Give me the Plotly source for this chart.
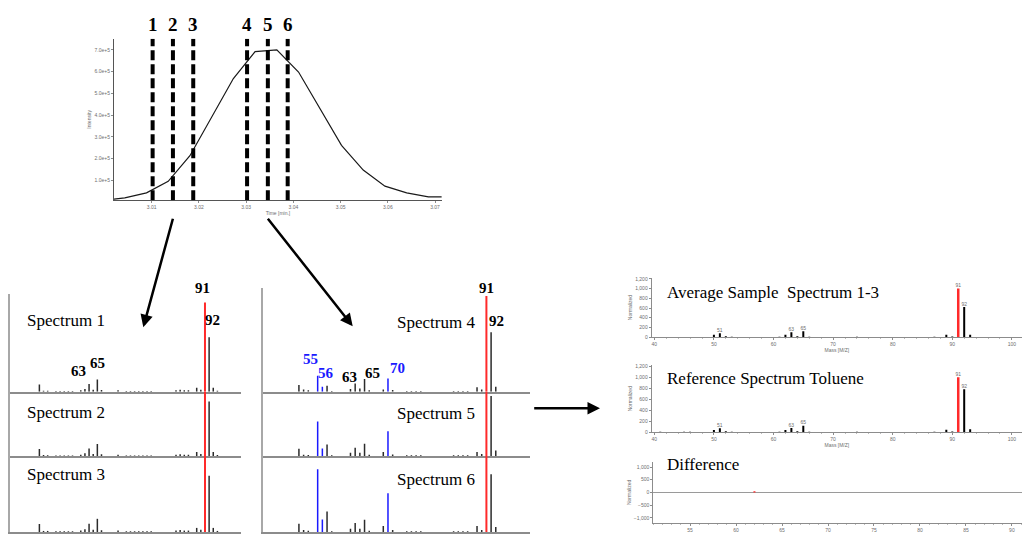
import plotly.graph_objects as go

W, H = 1025, 536

# ---- total ion chromatogram of the toluene peak ----
chrom_time = [3.0020, 3.0043, 3.0089, 3.0135, 3.0181, 3.0227, 3.0273, 3.0319,
              3.0365, 3.0411, 3.0456, 3.0502, 3.0548, 3.0594, 3.0640, 3.0686, 3.0714]
chrom_intensity = [13000, 19000, 42000, 95000, 213000, 389000, 568000, 692000,
                   700000, 598000, 434000, 261000, 147000, 73000, 42000, 24000, 24000]
scan_times = [3.0102, 3.0145, 3.0188, 3.0302, 3.0346, 3.0388]
scan_labels = ["1", "2", "3", "4", "5", "6"]

# ---- scans 1-3 (leading edge), base peak m/z 91 = 1000 ----
early_mz = [51, 52, 53, 55, 56, 57, 58, 59, 61, 62, 63, 64, 65, 66, 70, 72, 73, 74,
            75, 76, 77, 78, 84, 85, 86, 87, 89, 90, 91, 92, 93, 94]
spec1 = [81, 11, 11, 7, 7, 7, 7, 7, 15, 30, 85, 22, 137, 19, 15, 7, 7, 7,
         7, 7, 7, 7, 15, 20, 15, 15, 44, 22, 1000, 610, 44, 11]
spec2 = [80, 11, 10, 7, 7, 7, 7, 7, 15, 30, 84, 22, 135, 19, 15, 7, 7, 7,
         7, 7, 7, 7, 15, 20, 15, 15, 44, 22, 1000, 611, 44, 11]
spec3 = [90, 12, 12, 8, 8, 8, 8, 8, 16, 32, 92, 24, 148, 20, 16, 8, 8, 8,
         8, 8, 8, 8, 16, 22, 16, 16, 46, 24, 1000, 630, 46, 12]

# ---- scans 4-6 (apex / tailing edge) with co-eluting ions ----
late_mz = [51, 52, 53, 55, 56, 57, 58, 62, 63, 64, 65, 66, 69, 70, 71, 74, 75, 76,
           77, 84, 85, 86, 87, 89, 90, 91, 92, 93]
spec4 = [69, 21, 14, 166, 52, 62, 7, 28, 86, 34, 131, 14, 21, 138, 17, 7, 7, 7,
         7, 7, 7, 7, 7, 45, 21, 1000, 621, 52]
spec5 = [76, 14, 10, 362, 79, 121, 7, 34, 86, 34, 128, 14, 41, 259, 17, 7, 7, 7,
         7, 7, 7, 7, 7, 41, 21, 1000, 628, 59]
spec6 = [86, 21, 14, 655, 131, 214, 7, 34, 93, 34, 128, 14, 62, 404, 21, 7, 7, 7,
         7, 7, 7, 7, 7, 62, 21, 1000, 604, 52]
coeluting_mz = [55, 56, 70]
base_mz = 91

# ---- averaged sample vs library reference ----
lib_mz = [41, 45, 46, 50, 51, 52, 53, 61, 62, 63, 64, 65, 66, 74, 87, 89, 90, 91, 92, 93]
avg_int = [5, 5, 5, 48, 82, 20, 10, 10, 48, 102, 20, 122, 10, 8, 8, 48, 15, 1000, 620, 48]
ref_int = [8, 10, 10, 40, 72, 18, 10, 10, 40, 78, 18, 120, 10, 8, 8, 45, 15, 1000, 780, 55]
labelled_mz = [51, 63, 65, 91, 92]
diff_mz = [62]
diff_int = [40]

BLACK = "#2b2b2b"
RED = "#ff2a2a"
BLUE = "#1a1aff"
AXIS = "#8c8c8c"
TICK = "#6e6e6e"
SERIF = "Liberation Serif"
SANS = "Liberation Sans"


def dom_x(a, b):
    return [a / W, b / W]


def dom_y(top, bottom):
    return [1 - bottom / H, 1 - top / H]


def sticks(mz, ab, keep):
    xs, ys = [], []
    for m, a in zip(mz, ab):
        if keep(m):
            xs += [m, m, None]
            ys += [0, a, None]
    return xs, ys


fig = go.Figure()
layout = dict(width=W, height=H, margin=dict(l=0, r=0, t=0, b=0),
              paper_bgcolor="white", plot_bgcolor="white", showlegend=False)

# ---------------- chromatogram ----------------
fig.add_trace(go.Scatter(x=chrom_time, y=chrom_intensity, mode="lines",
                         line=dict(color="#1a1a1a", width=1.2), xaxis="x", yaxis="y"))
layout["xaxis"] = dict(domain=dom_x(114, 442), anchor="y", range=[3.00202, 3.07148],
                       tickvals=[3.01, 3.02, 3.03, 3.04, 3.05, 3.06, 3.07], tickformat=".2f",
                       ticks="outside", ticklen=2, tickcolor=AXIS, showline=True,
                       linecolor="#555", linewidth=1, showgrid=False, zeroline=False,
                       tickfont=dict(size=5, color=TICK, family=SANS),
                       title=dict(text="Time [min.]", font=dict(size=5, color=TICK, family=SANS),
                                  standoff=1))
layout["yaxis"] = dict(domain=dom_y(37, 200), anchor="x", range=[8700, 751600],
                       tickvals=[100000, 200000, 300000, 400000, 500000, 600000, 700000],
                       tickformat=".1e", ticks="outside", ticklen=2, tickcolor=AXIS,
                       showline=True, linecolor="#555", linewidth=1, showgrid=False,
                       zeroline=False, tickfont=dict(size=5, color=TICK, family=SANS),
                       title=dict(text="Intensity", font=dict(size=5, color=TICK, family=SANS),
                                  standoff=2))

shapes = []
for t in scan_times:
    shapes.append(dict(type="line", xref="x", yref="y", x0=t, x1=t, y0=8700, y1=751600,
                       line=dict(color="black", width=4, dash="10px,4px")))

annotations = []
for t, lab in zip(scan_times, scan_labels):
    annotations.append(dict(x=t, xref="x", y=1 - 22.7 / H, yref="paper", text=lab,
                            showarrow=False, xanchor="center", yanchor="middle",
                            font=dict(family=SERIF, size=19, color="black", weight="bold")))

# ---------------- scan panels ----------------
panels = [
    # (spectrum, masses, x0, x1, top, bottom, y max, m/z range, highlight co-eluting ions)
    (spec1, early_mz, 10, 241, 295, 393.3, 1092, [43.9, 99.7], False),
    (spec2, early_mz, 10, 241, 393.3, 458.3, 722, [43.9, 99.7], False),
    (spec3, early_mz, 10, 241, 458.3, 535, 852, [43.9, 99.7], False),
    (spec4, late_mz, 263.3, 530, 288.3, 393.3, 1087, [43.4, 100.3], True),
    (spec5, late_mz, 263.3, 530, 393.3, 458.3, 673, [43.4, 100.3], True),
    (spec6, late_mz, 263.3, 530, 458.3, 535, 794, [43.4, 100.3], True),
]
for i, (spec, mz, x0, x1, top, bottom, ymax, mzr, hl) in enumerate(panels):
    n = i + 2
    xa, ya = f"x{n}", f"y{n}"
    blue_set = coeluting_mz if hl else []
    groups = [
        (lambda m: m != base_mz and m not in blue_set, BLACK, 1.5),
        (lambda m: m in blue_set, BLUE, 1.5),
        (lambda m: m == base_mz, RED, 2),
    ]
    for keep, col, lw in groups:
        xs, ys = sticks(mz, spec, keep)
        if xs:
            fig.add_trace(go.Scatter(x=xs, y=ys, mode="lines", line=dict(color=col, width=lw),
                                     xaxis=xa, yaxis=ya))
    layout[f"xaxis{n}"] = dict(domain=dom_x(x0, x1), anchor=ya, range=mzr, showline=True,
                               linecolor=AXIS, linewidth=1.5, showticklabels=False, ticks="",
                               showgrid=False, zeroline=False)
    layout[f"yaxis{n}"] = dict(domain=dom_y(top, bottom), anchor=xa, range=[0, ymax],
                               showline=True, linecolor="#a8a8a8", linewidth=1.5,
                               showticklabels=False, ticks="", showgrid=False, zeroline=False)

spec_titles = [("Spectrum 1", 25, 321.7), ("Spectrum 2", 25, 414), ("Spectrum 3", 25, 477.3),
               ("Spectrum 4", 395, 323.3), ("Spectrum 5", 395, 415.7), ("Spectrum 6", 395, 481.7)]
for txt, px, py in spec_titles:
    annotations.append(dict(x=px / W, y=1 - py / H, xref="paper", yref="paper", text=txt,
                            showarrow=False, xanchor="left", yanchor="middle",
                            font=dict(family=SERIF, size=17, color="black")))

peak_marks = [("91", 202.5, 288.3, "black"), ("92", 212.3, 320.7, "black"),
              ("63", 78.7, 372.3, "black"), ("65", 97.3, 364, "black"),
              ("91", 486.7, 288.3, "black"), ("92", 496.7, 322.3, "black"),
              ("55", 310, 360.7, BLUE), ("56", 325.7, 374.3, BLUE),
              ("63", 349.3, 378.7, "black"), ("65", 372.3, 374.3, "black"),
              ("70", 397.3, 369.3, BLUE)]
for txt, px, py, col in peak_marks:
    annotations.append(dict(x=px / W, y=1 - py / H, xref="paper", yref="paper", text=txt,
                            showarrow=False, xanchor="center", yanchor="middle",
                            font=dict(family=SERIF, size=15, color=col, weight="bold")))

# ---------------- average / reference / difference ----------------
lib_panels = [
    (8, avg_int, 278.5, 338.3),
    (9, ref_int, 366.6, 434.3),
]
for n, ints, top, bottom in lib_panels:
    xa, ya = f"x{n}", f"y{n}"
    xs, ys = sticks(lib_mz, ints, lambda m: m != base_mz)
    fig.add_trace(go.Scatter(x=xs, y=ys, mode="lines", line=dict(color="black", width=2),
                             xaxis=xa, yaxis=ya))
    xs, ys = sticks(lib_mz, ints, lambda m: m == base_mz)
    fig.add_trace(go.Scatter(x=xs, y=ys, mode="lines", line=dict(color=RED, width=2.5),
                             xaxis=xa, yaxis=ya))
    lx = [m for m in lib_mz if m in labelled_mz]
    ly = [a for m, a in zip(lib_mz, ints) if m in labelled_mz]
    fig.add_trace(go.Scatter(x=lx, y=ly, mode="text", text=[str(m) for m in lx],
                             textposition="top center",
                             textfont=dict(size=5, color=TICK, family=SANS),
                             xaxis=xa, yaxis=ya, cliponaxis=False))
    layout[f"xaxis{n}"] = dict(domain=dom_x(651.7, 1022), anchor=ya, range=[39.56, 101.7],
                               tickvals=[40, 50, 60, 70, 80, 90, 100], ticks="outside",
                               ticklen=2, tickcolor=AXIS, showline=True, linecolor=AXIS,
                               linewidth=1, showgrid=False, zeroline=False,
                               minor=dict(dtick=2, ticks="outside", ticklen=1, tickcolor="#bbb"),
                               tickfont=dict(size=5, color=TICK, family=SANS),
                               title=dict(text="Mass [M/Z]",
                                          font=dict(size=5, color=TICK, family=SANS), standoff=1))
    layout[f"yaxis{n}"] = dict(domain=dom_y(top, bottom), anchor=xa, range=[0, 1220],
                               tickvals=[0, 200, 400, 600, 800, 1000, 1200], tickformat=",",
                               ticks="outside", ticklen=2, tickcolor=AXIS, showline=True,
                               linecolor=AXIS, linewidth=1, showgrid=False, zeroline=False,
                               tickfont=dict(size=5, color=TICK, family=SANS),
                               title=dict(text="Normalized",
                                          font=dict(size=5, color=TICK, family=SANS), standoff=2))

xs, ys = sticks(diff_mz, diff_int, lambda m: True)
fig.add_trace(go.Scatter(x=xs, y=ys, mode="lines", line=dict(color=RED, width=2),
                         xaxis="x10", yaxis="y10"))
layout["xaxis10"] = dict(domain=dom_x(653.3, 1022), anchor="y10", range=[51.0, 91.1],
                         tickvals=[55, 60, 65, 70, 75, 80, 85, 90], ticks="outside", ticklen=2,
                         tickcolor=AXIS, showline=True, linecolor=AXIS, linewidth=1,
                         showgrid=False, zeroline=False,
                         minor=dict(dtick=1, ticks="outside", ticklen=1, tickcolor="#bbb"),
                         tickfont=dict(size=5, color=TICK, family=SANS))
layout["yaxis10"] = dict(domain=dom_y(464, 526), anchor="x10", range=[-1210, 1210],
                         tickvals=[-1000, -500, 0, 500, 1000], tickformat=",",
                         ticks="outside", ticklen=2, tickcolor=AXIS, showline=True,
                         linecolor=AXIS, linewidth=1, showgrid=False, zeroline=True,
                         zerolinecolor="#9a9a9a", zerolinewidth=1,
                         tickfont=dict(size=5, color=TICK, family=SANS),
                         title=dict(text="Normalized", font=dict(size=5, color=TICK, family=SANS),
                                    standoff=2))

for txt, px, py in [("Average Sample\u00a0 Spectrum 1-3", 665, 293.3),
                    ("Reference Spectrum Toluene", 665, 380),
                    ("Difference", 665, 467.3)]:
    annotations.append(dict(x=px / W, y=1 - py / H, xref="paper", yref="paper", text=txt,
                            showarrow=False, xanchor="left", yanchor="middle",
                            font=dict(family=SERIF, size=17, color="black")))

# ---------------- connecting arrows ----------------
for tip, tail in [((143.3, 328.3), (173.3, 218.3)),
                  ((352.7, 327.3), (266.7, 218.3)),
                  ((600, 410), (532.7, 410))]:
    annotations.append(dict(x=tip[0] / W, y=1 - tip[1] / H, xref="paper", yref="paper",
                            text="", showarrow=True, axref="pixel", ayref="pixel",
                            ax=tail[0] - tip[0], ay=tail[1] - tip[1], arrowhead=2,
                            arrowsize=1, arrowwidth=2.5, arrowcolor="black", standoff=0))

layout["shapes"] = shapes
layout["annotations"] = annotations
fig.update_layout(**layout)
fig.write_html("out.html")
